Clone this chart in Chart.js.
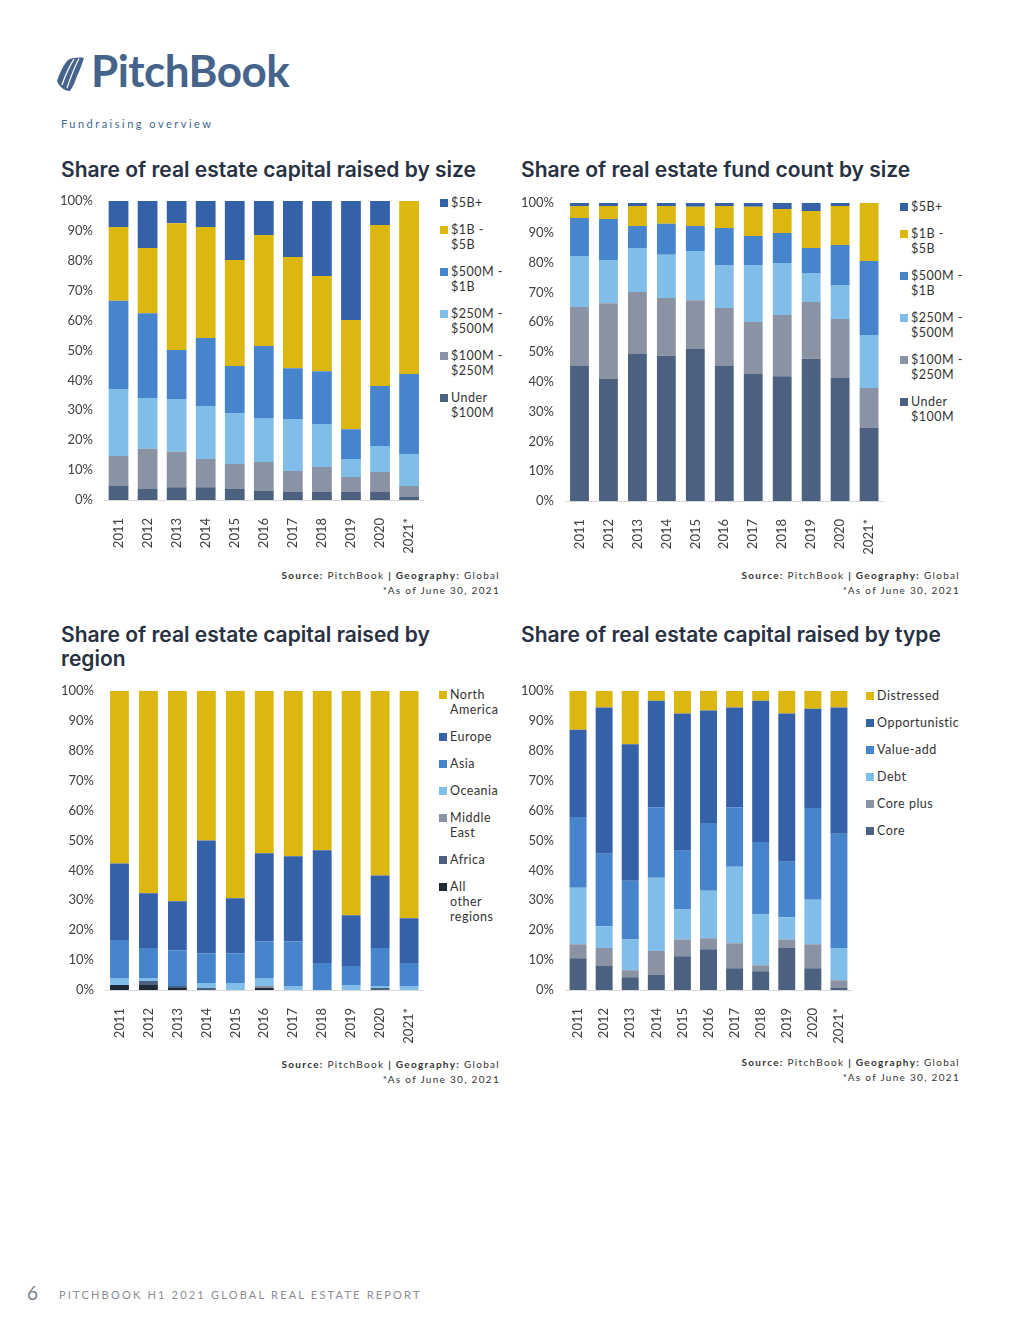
<!DOCTYPE html>
<html>
<head>
<meta charset="utf-8">
<script src="https://cdn.jsdelivr.net/npm/chart.js@4.4.1/dist/chart.umd.min.js"></script>
<style>
  html, body { margin:0; padding:0; background:#fff; }
  body { width:1020px; height:1320px; position:relative; overflow:hidden; font-family: Lato, "Open Sans", sans-serif; }
  .abs { position:absolute; }
  .logo { left:56px; top:50px; height:45px; }
  .logotext { position:absolute; left:35px; top:-6px; font-family: Lato, sans-serif; font-weight:700; font-size:44px; color:#46638b; letter-spacing:-0.5px; white-space:nowrap; }
  .section { left:61px; top:117px; font-size:11px; letter-spacing:2.5px; color:#3f6592; }
  .title { font-family: Inter, "Open Sans", sans-serif; font-weight:600; font-size:21px; color:#273142; line-height:24px; white-space:nowrap; }
  .src { font-size:10px; letter-spacing:1.3px; color:#333; text-align:right; line-height:15px; white-space:nowrap; }
  .src b { font-weight:700; }
  .legend { font-size:12.5px; color:#333; letter-spacing:0.5px; line-height:15px; }
  .legend .item { position:relative; padding-left:11px; margin-bottom:12px; }
  .legend .sw { position:absolute; left:0; top:4px; width:8px; height:8px; }
  .cw { position:absolute; }
  .footer-num { left:27px; top:1281px; font-size:19px; color:#7b7f86; }
  .footer { left:59px; top:1288px; font-size:11px; letter-spacing:2.2px; color:#8a8d92; white-space:nowrap; }
</style>
</head>
<body>

<div class="abs logo">
  <svg width="36" height="42" viewBox="0 0 36 42" style="position:absolute;left:0;top:4px">
    <path d="M1 27 C4 18 8 10 12 6 C17 3.5 23 3 28 4 C26 10 24 16 21 22 C19 28 17 33 14 37 C11 37 8 36 6 34 C4 32 2 30 1 27 Z" fill="#46638b"/>
    <path d="M6 31 C9 22 13 13 18 5" stroke="#ffffff" stroke-width="1.3" fill="none"/>
    <path d="M11 34 C14 25 18 14 23 4.5" stroke="#ffffff" stroke-width="1.2" fill="none"/>
  </svg>
  <div class="logotext">PitchBook</div>
</div>
<div class="abs section">Fundraising overview</div>

<div class="abs title" style="left:61px;top:158px;">Share of real estate capital raised by size</div>
<div class="abs title" style="left:521px;top:158px;">Share of real estate fund count by size</div>
<div class="abs title" style="left:61px;top:623px;">Share of real estate capital raised by<br>region</div>
<div class="abs title" style="left:521px;top:623px;">Share of real estate capital raised by type</div>

<div class="cw" style="left:55px;top:190px;width:380px;height:365px;"><canvas id="c1"></canvas></div>
<div class="cw" style="left:515px;top:190px;width:380px;height:365px;"><canvas id="c2"></canvas></div>
<div class="cw" style="left:55px;top:680px;width:380px;height:365px;"><canvas id="c3"></canvas></div>
<div class="cw" style="left:515px;top:680px;width:350px;height:365px;"><canvas id="c4"></canvas></div>

<div class="abs legend" id="lg1" style="left:440px;top:195px;"></div>
<div class="abs legend" id="lg2" style="left:900px;top:199px;"></div>
<div class="abs legend" id="lg3" style="left:439px;top:687px;"></div>
<div class="abs legend" id="lg4" style="left:866px;top:688px;"></div>

<div class="abs src" style="right:520px;top:568px;"><b>Source:</b> PitchBook <b>| Geography:</b> Global<br>*As of June 30, 2021</div>
<div class="abs src" style="right:60px;top:568px;"><b>Source:</b> PitchBook <b>| Geography:</b> Global<br>*As of June 30, 2021</div>
<div class="abs src" style="right:520px;top:1057px;"><b>Source:</b> PitchBook <b>| Geography:</b> Global<br>*As of June 30, 2021</div>
<div class="abs src" style="right:60px;top:1055px;"><b>Source:</b> PitchBook <b>| Geography:</b> Global<br>*As of June 30, 2021</div>

<div class="abs footer-num">6</div>
<div class="abs footer">PITCHBOOK H1 2021 GLOBAL REAL ESTATE REPORT</div>

<script>
// ---------- data ----------
const years = ['2011','2012','2013','2014','2015','2016','2017','2018','2019','2020','2021*'];
const yTicks = [0,10,20,30,40,50,60,70,80,90,100];

// Chart 1: share of capital raised by size (%)
const capUnder100M  = [4.7, 3.7, 4.3, 4.3, 3.7, 3.0, 2.7, 2.7, 2.7, 2.7, 1.0];
const cap100to250M  = [10.0, 13.4, 11.8, 9.4, 8.3, 9.7, 7.0, 8.3, 5.0, 6.7, 3.7];
const cap250to500M  = [22.4, 17.0, 17.7, 17.7, 17.1, 14.7, 17.4, 14.4, 6.0, 8.7, 10.7];
const cap500Mto1B   = [29.5, 28.4, 16.4, 22.8, 15.7, 24.1, 17.0, 17.7, 10.0, 20.0, 26.7];
const cap1Bto5B     = [24.7, 21.8, 42.4, 37.1, 35.5, 37.1, 37.2, 31.8, 36.5, 53.9, 57.9];
const cap5Bplus     = [8.7, 15.7, 7.4, 8.7, 19.7, 11.4, 18.7, 25.1, 39.8, 8.0, 0];

// Chart 2: share of fund count by size (%)
const cntUnder100M  = [45.3, 40.9, 49.3, 48.7, 51.0, 45.3, 42.6, 41.9, 47.7, 41.3, 24.5];
const cnt100to250M  = [19.8, 25.5, 20.8, 19.4, 16.4, 19.5, 17.5, 20.5, 19.1, 19.8, 13.4];
const cnt250to500M  = [17.1, 14.5, 14.8, 14.5, 16.5, 14.4, 19.1, 17.5, 9.7, 11.4, 17.8];
const cnt500Mto1B   = [12.8, 13.7, 7.4, 10.4, 8.4, 12.4, 9.7, 10.0, 8.4, 13.4, 24.8];
const cnt1Bto5B     = [4.0, 4.4, 6.7, 6.0, 6.4, 7.4, 9.8, 8.1, 12.4, 13.1, 19.5];
const cnt5Bplus     = [1.0, 1.0, 1.0, 1.0, 1.3, 1.0, 1.3, 2.0, 2.7, 1.0, 0];

// Chart 3: share of capital raised by region (%)
const regAllOther     = [1.7, 1.7, 0.7, 0, 0, 0.7, 0, 0, 0, 0, 0];
const regAfrica       = [0, 1.3, 0.6, 0.7, 0, 0, 0, 0, 0, 0.7, 0];
const regMiddleEast   = [0, 0, 0, 0, 0, 0.6, 0, 0, 0, 0, 0];
const regOceania      = [2.3, 1.0, 0, 1.6, 2.3, 2.7, 1.3, 0, 1.7, 0.6, 1.3];
const regAsia         = [12.7, 10.0, 12.0, 10.0, 10.0, 12.3, 15.0, 9.0, 6.3, 12.7, 7.7];
const regEurope       = [25.6, 18.3, 16.4, 37.7, 18.4, 29.4, 28.4, 37.7, 17.0, 24.3, 15.0];
const regNorthAmerica = [57.7, 67.7, 70.3, 50.0, 69.3, 54.3, 55.3, 53.3, 75.0, 61.7, 76.0];

// Chart 4: share of capital raised by type (%)
const typCore          = [10.6, 8.0, 4.3, 5.0, 11.3, 13.6, 7.3, 6.3, 14.0, 7.3, 0.7];
const typCorePlus      = [4.7, 6.0, 2.3, 8.0, 5.6, 3.7, 8.3, 2.0, 2.9, 8.0, 2.6];
const typDebt          = [18.9, 7.3, 10.3, 24.5, 10.0, 15.9, 25.6, 16.9, 7.4, 14.9, 10.7];
const typValueAdd      = [23.6, 24.2, 19.6, 23.6, 19.6, 22.6, 19.9, 24.3, 18.6, 30.6, 38.2];
const typOpportunistic = [29.2, 48.9, 45.6, 35.6, 45.9, 37.6, 33.3, 47.2, 49.5, 33.2, 42.2];
const typDistressed    = [13.0, 5.6, 17.9, 3.3, 7.6, 6.6, 5.6, 3.3, 7.6, 6.0, 5.6];

// legend labels (lines)
const sizeLabels   = [['Under','$100M'], ['$100M -','$250M'], ['$250M -','$500M'], ['$500M -','$1B'], ['$1B -','$5B'], ['$5B+']];
const regionLabels = [['All','other','regions'], ['Africa'], ['Middle','East'], ['Oceania'], ['Asia'], ['Europe'], ['North','America']];
const typeLabels   = [['Core'], ['Core plus'], ['Debt'], ['Value-add'], ['Opportunistic'], ['Distressed']];

// ---------- styles ----------
const C = {
  slate: '#4c617f', gray: '#8a93a3', light: '#80bde8', mid: '#4684cc', dark: '#3461a8', gold: '#dbb70f', black: '#1f2937'
};
const sizeColors   = [C.slate, C.gray, C.light, C.mid, C.gold, C.dark];
const regionColors = [C.black, C.slate, C.gray, C.light, C.mid, C.dark, C.gold];
const typeColors   = [C.slate, C.gray, C.light, C.mid, C.dark, C.gold];

Chart.defaults.font.family = 'Lato, "Open Sans", sans-serif';
Chart.defaults.color = '#404040';

function makeChart(id, series, labels, colors, geo) {
  const datasets = series.map((d, i) => ({
    label: labels[i].join(' '),
    data: d,
    backgroundColor: colors[i],
    borderWidth: 0,
    barPercentage: geo.bar,
    categoryPercentage: 1.0
  }));
  return new Chart(document.getElementById(id), {
    type: 'bar',
    data: { labels: years, datasets },
    options: {
      responsive: true,
      maintainAspectRatio: false,
      animation: false,
      layout: { padding: { top: geo.top, right: geo.right, bottom: 0, left: 0 } },
      plugins: { legend: { display: false }, tooltip: { enabled: false } },
      scales: {
        x: {
          stacked: true,
          grid: { display: false },
          border: { display: true, color: '#d9d9d9', width: 1 },
          ticks: { minRotation: 90, maxRotation: 90, padding: 10, font: { size: 13 }, color: '#404040' },
          afterFit: (s) => { s.height = geo.xh; }
        },
        y: {
          stacked: true,
          min: 0, max: 100,
          afterBuildTicks: (s) => { s.ticks = yTicks.map(v => ({ value: v })); },
          grid: { display: false },
          border: { display: false },
          ticks: { padding: 3, font: { size: 13 }, color: '#404040', callback: (v) => v + '%' },
          afterFit: (s) => { s.width = geo.yw; }
        }
      }
    }
  });
}

function makeLegend(id, labels, colors) {
  const el = document.getElementById(id);
  for (let i = labels.length - 1; i >= 0; i--) {
    const it = document.createElement('div');
    it.className = 'item';
    it.innerHTML = '<span class="sw" style="background:' + colors[i] + '"></span>' + labels[i].join('<br>');
    el.appendChild(it);
  }
}

makeChart('c1', [capUnder100M, cap100to250M, cap250to500M, cap500Mto1B, cap1Bto5B, cap5Bplus], sizeLabels, sizeColors,
  { bar: 0.68, top: 11, right: 7, yw: 49, xh: 55 });
makeChart('c2', [cntUnder100M, cnt100to250M, cnt250to500M, cnt500Mto1B, cnt1Bto5B, cnt5Bplus], sizeLabels, sizeColors,
  { bar: 0.65, top: 13, right: 7, yw: 50, xh: 54 });
makeChart('c3', [regAllOther, regAfrica, regMiddleEast, regOceania, regAsia, regEurope, regNorthAmerica], regionLabels, regionColors,
  { bar: 0.65, top: 10, right: 7, yw: 50, xh: 55 });
makeChart('c4', [typCore, typCorePlus, typDebt, typValueAdd, typOpportunistic, typDistressed], typeLabels, typeColors,
  { bar: 0.65, top: 9, right: 10, yw: 50, xh: 55 });

makeLegend('lg1', sizeLabels, sizeColors);
makeLegend('lg2', sizeLabels, sizeColors);
makeLegend('lg3', regionLabels, regionColors);
makeLegend('lg4', typeLabels, typeColors);
</script>
</body>
</html>
